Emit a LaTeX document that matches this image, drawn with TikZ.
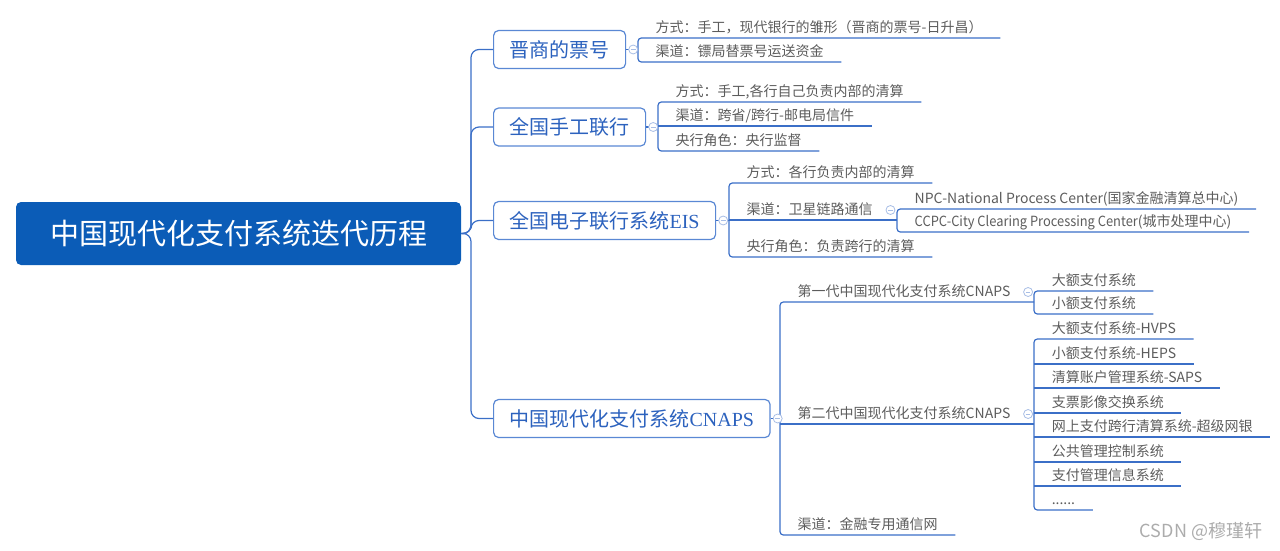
\documentclass[tikz,border=0pt]{standalone}
\usepackage{fontspec}
\setmainfont{Noto Sans CJK SC}
\newfontfamily\serifl{Liberation Serif}
\newfontfamily\narrowl[FakeStretch=0.92]{Noto Sans CJK SC}
\definecolor{rootblue}{HTML}{0B5CB7}
\definecolor{boxblue}{HTML}{5A88D4}
\definecolor{txtblue}{HTML}{2C62BE}
\definecolor{lnblue}{HTML}{3B6FC7}
\definecolor{leafgray}{HTML}{5C5C5C}
\definecolor{circblue}{HTML}{A8BEE6}
\tikzset{
  rootbox/.style={rounded corners=3.75pt, fill=rootblue, text=white,
    font=\fontsize{21.75pt}{26pt}\selectfont, minimum width=333.75pt,
    minimum height=47.25pt, inner sep=0pt},
  branch/.style={anchor=west, draw=boxblue, line width=0.9pt, fill=white,
    rounded corners=3.75pt, text=txtblue, font=\fontsize{15pt}{18pt}\selectfont,
    inner xsep=12pt, inner ysep=0pt, minimum height=28.5pt},
  leaf/.style={anchor=south west, inner xsep=13.1pt, inner ysep=0pt,
    text height=8pt, text depth=4.3pt, text=leafgray,
    font=\fontsize{10.5pt}{12pt}\selectfont},
  ln/.style={draw=lnblue, line width=0.9pt},
  brk/.style={ln, rounded corners=2.5pt},
  fold/.style={circle, draw=circblue, fill=white, line width=0.6pt,
    minimum size=6.75pt, inner sep=0pt,
    path picture={\draw[circblue, line width=0.6pt]
      ([xshift=1.6pt]path picture bounding box.west) --
      ([xshift=-1.6pt]path picture bounding box.east);}},
}
\begin{document}
\begin{tikzpicture}[x=0.75pt,y=-0.75pt]
\useasboundingbox (0,0) rectangle (1280,550);

% root
\node[rootbox] (root) at (238.5,233.5) {中国现代化支付系统迭代历程};
\coordinate (tr) at (471,233.5);

% branches
\node[branch] (b1) at (493,49.5) {晋商的票号};
\node[branch] (b2) at (493,127) {全国手工联行};
\node[branch] (b3) at (493,220.5) {全国电子联行系统{\serifl EIS}};
\node[branch] (b4) at (493,418.5) {中国现代化支付系统{\serifl CNAPS}};

% leaves of b1
\node[leaf] (l11) at (638,38) {方式：手工，现代银行的雏形（晋商的票号-日升昌）};
\node[leaf] (l12) at (638,62) {渠道：镖局替票号运送资金};

% leaves of b2
\node[leaf] (l21) at (658,102) {方式：手工,各行自己负责内部的清算};
\node[leaf] (l22) at (658,126) {渠道：跨省/跨行-邮电局信件};
\node[leaf] (l23) at (658,151) {央行角色：央行监督};

% leaves of b3
\node[leaf] (l31) at (729,183) {方式：各行负责内部的清算};
\node[leaf] (l32) at (729,220) {渠道：卫星链路通信};
\node[leaf] (l33) at (729,257) {央行角色：负责跨行的清算};
\node[leaf] (s1) at (897,209) {NPC-National Process Center(国家金融清算总中心)};
\node[leaf] (s2) at (897,232) {{\narrowl CCPC-City Clearing Processing Center}(城市处理中心)};

% leaves of b4
\node[leaf] (g1) at (780,302) {第一代中国现代化支付系统CNAPS};
\node[leaf] (g2) at (780,424) {第二代中国现代化支付系统CNAPS};
\node[leaf] (l43) at (780,535) {渠道：金融专用通信网};

\node[leaf] (a1) at (1034,291) {大额支付系统};
\node[leaf] (a2) at (1034,314) {小额支付系统};

\node[leaf] (c1) at (1034,339) {大额支付系统-HVPS};
\node[leaf] (c2) at (1034,364) {小额支付系统-HEPS};
\node[leaf] (c3) at (1034,388) {清算账户管理系统-SAPS};
\node[leaf] (c4) at (1034,413) {支票影像交换系统};
\node[leaf] (c5) at (1034,437) {网上支付跨行清算系统-超级网银};
\node[leaf] (c6) at (1034,462) {公共管理控制系统};
\node[leaf] (c7) at (1034,486) {支付管理信息系统};
\node[leaf] (c8) at (1034,510) {......};

% trunk
\draw[ln, rounded corners=6pt] (root.east) -- (tr) |- (b1.west);
\draw[ln, rounded corners=6pt] (root.east) -- (tr) |- (b2.west);
\draw[ln, rounded corners=6pt] (root.east) -- (tr) |- (b3.west);
\draw[ln, rounded corners=6pt] (root.east) -- (tr) |- (b4.west);

% b1 group
\draw[ln] (b1.east) -- (b1.east -| l11.south west);
\draw[brk] (l11.south east) -- (l11.south west) -- (l12.south west) -- (l12.south east);

% b2 group
\draw[ln] (b2.east) -- (b2.east -| l21.south west);
\draw[brk] (l21.south east) -- (l21.south west) -- (l23.south west) -- (l23.south east);
\draw[ln] (l22.south west) -- (l22.south east);

% b3 group
\draw[ln] (b3.east) -- (b3.east -| l31.south west);
\draw[brk] (l31.south east) -- (l31.south west) -- (l33.south west) -- (l33.south east);
\draw[ln] (l32.south west) -- (l32.south west -| s1.south west);
\draw[brk] (s1.south east) -- (s1.south west) -- (s2.south west) -- (s2.south east);

% b4 group
\draw[ln] (b4.east) -- (b4.east -| g1.south west);
\draw[brk] (g1.south west -| a1.south west) -- (g1.south west) -- (l43.south west) -- (l43.south east);
\draw[ln] (g2.south west) -- (g2.south west -| c1.south west);

% first generation
\draw[brk] (a1.south east) -- (a1.south west) -- (a2.south west) -- (a2.south east);

% second generation
\draw[brk] (c1.south east) -- (c1.south west) -- (c8.south west) -- (c8.south east);
\foreach \n in {c2,c3,c4,c5,c6,c7} \draw[ln] (\n.south west) -- (\n.south east);

% fold markers
\node[fold] (f1) at ([xshift=5.25pt]b1.east) {};
\node[fold] (f2) at ([xshift=5.25pt]b2.east) {};
\node[fold] (f3) at ([xshift=5.25pt]b3.east) {};
\node[fold] (f4) at ([xshift=5.25pt]b4.east) {};
\node[fold] (f32) at ([yshift=7.5pt]l32.south east) {};
\node[fold] (fg1) at ([yshift=7.5pt]g1.south east) {};
\node[fold] (fg2) at ([yshift=7.5pt]g2.south east) {};

% watermark
\node[text=gray!65, font=\fontsize{13.5pt}{16pt}\selectfont] (wm) at (1201,531) {CSDN @穆瑾轩};
\end{tikzpicture}
\end{document}
